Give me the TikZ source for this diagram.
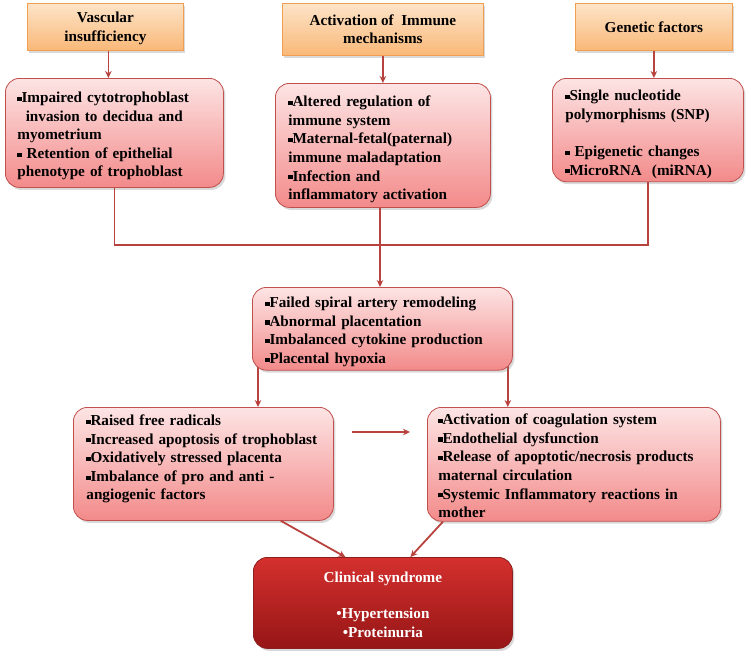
\documentclass[tikz,border=0pt]{standalone}
\usepackage{fontspec}
\setmainfont{Liberation Serif}
\usetikzlibrary{arrows.meta,shadows,calc,backgrounds}
\definecolor{orangetop}{RGB}{253,228,200}
\definecolor{orangebot}{RGB}{249,184,120}
\definecolor{orangeborder}{RGB}{240,158,82}
\definecolor{pinktop}{RGB}{253,228,228}
\definecolor{pinkbot}{RGB}{243,138,138}
\definecolor{pinkborder}{RGB}{192,80,77}
\definecolor{redtop}{RGB}{212,48,46}
\definecolor{redbot}{RGB}{150,22,22}
\definecolor{redborder}{RGB}{140,30,30}
\definecolor{arrowred}{RGB}{184,66,62}
\newcommand{\sq}{\raisebox{0.25ex}{\rule{0.27em}{0.27em}}}
\newcommand{\topstrut}[1]{\rule{0pt}{#1}}
\tikzset{
  basebox/.style={draw, line width=0.8pt, anchor=north west,
    font=\fontsize{15.2}{18.6}\selectfont\bfseries,
    drop shadow={opacity=0.3, shadow xshift=2pt, shadow yshift=-2.5pt}},
  topbox/.style={basebox, draw=orangeborder, top color=orangetop, bottom color=orangebot,
    align=center, inner sep=4pt},
  pinkbox/.style={basebox, rounded corners=14pt, draw=pinkborder, top color=pinktop,
    bottom color=pinkbot, align=left, inner xsep=12pt},
  redbox/.style={basebox, rounded corners=14pt, draw=redborder, top color=redtop,
    bottom color=redbot, align=center, text=white},
  arr/.style={draw=arrowred, line width=1.8pt, -{Stealth[length=7pt,width=6.5pt]}},
  ln/.style={draw=arrowred, line width=1.8pt},
}
\begin{document}
\begin{tikzpicture}[x=1pt,y=-1pt]
\useasboundingbox (0,0) rectangle (746,657);
% top boxes
\node[topbox, minimum width=156pt, minimum height=47pt] (T1) at (27,3) {\topstrut{14pt}Vascular\\insufficiency};
\node[topbox, minimum width=201pt, minimum height=52pt] (T2) at (282,3) {Activation of\ \ Immune\\mechanisms};
\node[topbox, minimum width=157pt, minimum height=47pt] (T3) at (575,3) {Genetic factors};
% second row
\node[pinkbox, minimum width=218pt, minimum height=109pt, text width=194pt] (A) at (5,78)
 {\topstrut{17pt}\sq Impaired cytotrophoblast\\\hspace*{0.55em}invasion to decidua and\\myometrium\\\sq\ Retention of epithelial\\phenotype of trophoblast};
\node[pinkbox, minimum width=215pt, minimum height=124pt, text width=189pt, inner xsep=13pt] (B) at (275,83)
 {\topstrut{19pt}\sq Altered regulation of\\immune system\\\sq Maternal-fetal(paternal)\\immune maladaptation\\\sq Infection and\\inflammatory activation};
\node[pinkbox, minimum width=191pt, minimum height=103pt, text width=165pt, inner xsep=13pt] (C) at (552,78)
 {\topstrut{19pt}\sq Single nucleotide\\polymorphisms (SNP)\\[18.6pt]\sq\ Epigenetic changes\\\sq MicroRNA\ \ (miRNA)};
% third row
\node[pinkbox, minimum width=260pt, minimum height=78pt, text width=234pt, inner xsep=13pt] (D) at (252,287)
 {\topstrut{17pt}\sq Failed spiral artery remodeling\\\sq Abnormal placentation\\\sq Imbalanced cytokine production\\\sq Placental hypoxia};
% fourth row
\node[pinkbox, minimum width=260pt, minimum height=113pt, text width=238pt, inner xsep=11pt] (E) at (73,407)
 {\hspace*{2pt}\sq Raised free radicals\\\hspace*{2pt}\sq Increased apoptosis of trophoblast\\\hspace*{2pt}\sq Oxidatively stressed placenta\\\hspace*{2pt}\sq Imbalance of pro and anti -\\\hspace*{2pt}angiogenic factors\rule[-13pt]{0pt}{13pt}};
\node[pinkbox, minimum width=293pt, minimum height=113pt, text width=271pt, inner xsep=11pt] (F) at (427,407)
 {\topstrut{14pt}\sq Activation of coagulation system\\\sq Endothelial dysfunction\\\sq Release of apoptotic/necrosis products\\maternal circulation\\\sq Systemic Inflammatory reactions in\\mother};
% clinical
\node[redbox, minimum width=259pt, minimum height=91pt] (G) at (253,557)
 {\topstrut{14pt}Clinical syndrome\\[18pt]\textbullet Hypertension\\\textbullet Proteinuria};
% connectors
\draw[arr] ([xshift=3pt]T1.south) -- ([xshift=3pt]T1.south |- A.north);
\draw[arr] (T2.south) -- (T2.south |- B.north);
\draw[arr] (T3.south) -- (T3.south |- C.north);
\coordinate (J) at (380,245);
\draw[ln] (A.south) -- (A.south |- J) -- (C.south |- J) -- (C.south);
\draw[arr] (B.south -| J) -- (J |- D.north);
\begin{scope}[on background layer]
\draw[arr] ([xshift=6pt,yshift=6pt]D.south west) -- ([xshift=6pt]D.south west |- E.north);
\draw[arr] ([xshift=-5pt,yshift=6pt]D.south east) -- ([xshift=-5pt]D.south east |- F.north);
\end{scope}
\coordinate (ef1) at (352,432);
\coordinate (ef2) at (410,432);
\draw[arr] (ef1) -- (ef2);
\draw[arr] ([xshift=-53pt]E.south east) -- ([xshift=-37.5pt]G.north);
\draw[arr] ([xshift=16pt]F.south west) -- ([xshift=27.5pt]G.north);
\end{tikzpicture}
\end{document}
